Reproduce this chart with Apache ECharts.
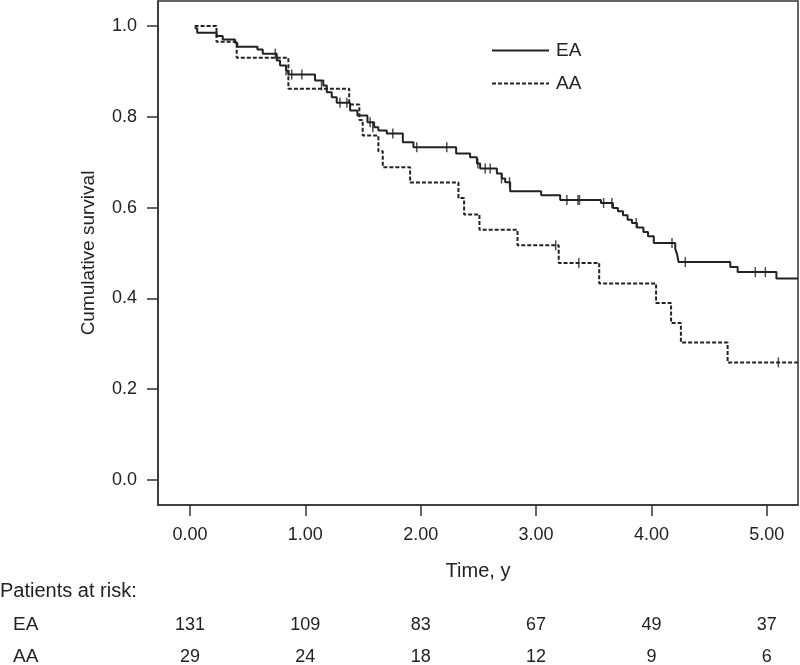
<!DOCTYPE html>
<html>
<head>
<meta charset="utf-8">
<script src="https://cdn.jsdelivr.net/npm/echarts@6/dist/echarts.min.js"></script>
<style>html,body{margin:0;padding:0;background:#fff}#c{width:800px;height:665px}</style>
</head>
<body>
<div id="c"></div>
<script>
// ---- data ----
const tickTimes = [0, 1, 2, 3, 4, 5];
const survTicks = [0, 0.2, 0.4, 0.6, 0.8, 1.0];
const riskEA = [131, 109, 83, 67, 49, 37];
const riskAA = [29, 24, 18, 12, 9, 6];

const eaTime = [0.04, 0.063, 0.232, 0.284, 0.390, 0.410, 0.585, 0.631, 0.752, 0.781, 0.833, 0.853, 1.084, 1.156, 1.186, 1.229, 1.272, 1.388, 1.451, 1.538, 1.596, 1.633, 1.706, 1.845, 1.937, 2.307, 2.428, 2.487, 2.515, 2.660, 2.703, 2.732, 2.775, 3.044, 3.209, 3.562, 3.666, 3.709, 3.753, 3.793, 3.831, 3.874, 3.93, 3.97, 4.02, 4.206, 4.221, 4.235, 4.683, 4.747, 5.083, 5.27];
const eaSurv = [0.995, 0.985, 0.978, 0.970, 0.963, 0.954, 0.948, 0.939, 0.924, 0.913, 0.902, 0.893, 0.880, 0.869, 0.854, 0.843, 0.831, 0.814, 0.803, 0.788, 0.777, 0.770, 0.763, 0.744, 0.733, 0.719, 0.711, 0.697, 0.686, 0.675, 0.664, 0.656, 0.636, 0.627, 0.617, 0.610, 0.599, 0.592, 0.583, 0.573, 0.566, 0.556, 0.546, 0.537, 0.522, 0.509, 0.498, 0.480, 0.469, 0.458, 0.444, 0.444];

const aaTime = [0.04, 0.23, 0.405, 0.853, 1.38, 1.468, 1.497, 1.633, 1.671, 1.908, 2.327, 2.376, 2.509, 2.839, 3.196, 3.547, 4.04, 4.17, 4.255, 4.66, 5.27];
const aaSurv = [1.0, 0.965, 0.930, 0.862, 0.827, 0.793, 0.759, 0.724, 0.689, 0.655, 0.621, 0.585, 0.551, 0.517, 0.478, 0.433, 0.390, 0.346, 0.303, 0.259, 0.259];

const eaCensTime = [0.74, 0.833, 0.882, 0.97, 1.14, 1.30, 1.36, 1.561, 1.585, 1.758, 1.966, 2.226, 2.495, 2.559, 2.602, 2.70, 2.77, 3.267, 3.363, 3.376, 3.585, 3.657, 3.868, 4.178, 4.293, 4.900, 4.987];
const eaCensSurv = [0.939, 0.902, 0.893, 0.893, 0.869, 0.831, 0.831, 0.788, 0.777, 0.763, 0.733, 0.733, 0.697, 0.686, 0.686, 0.664, 0.656, 0.617, 0.617, 0.617, 0.610, 0.610, 0.566, 0.522, 0.480, 0.458, 0.458];

const aaCensTime = [3.17, 3.37, 5.10];
const aaCensSurv = [0.517, 0.478, 0.259];

// ---- build ----
const zip = (a, b) => a.map((v, i) => [v, b[i]]);
const FONT = '"Liberation Sans", Arial, Helvetica, sans-serif';
const TXT = '#222';
const LINE = '#333';

const chart = echarts.init(document.getElementById('c'), null, {renderer: 'canvas'});
const option = {
  animation: false,
  backgroundColor: '#fff',
  textStyle: {fontFamily: FONT},
  grid: {left: 158, right: 2, top: 1, bottom: 160, show: true, borderColor: LINE, borderWidth: 1.5},
  legend: {
    data: ['EA', 'AA'], orient: 'vertical', left: 491, top: 41, padding: 0,
    itemWidth: 57, itemHeight: 18, itemGap: 14,
    itemStyle: {color: 'rgba(0,0,0,0)', borderWidth: 0, opacity: 0},
    textStyle: {fontSize: 19, color: TXT, fontFamily: FONT, padding: [0, 0, 0, 2]}
  },
  xAxis: {
    type: 'value', min: -0.277, max: 5.27,
    axisLine: {onZero: false, lineStyle: {color: LINE, width: 1.5}},
    axisTick: {customValues: tickTimes, length: 11, lineStyle: {color: LINE, width: 1.5}},
    axisLabel: {customValues: tickTimes, formatter: v => v.toFixed(2), margin: 21, fontSize: 18, color: TXT},
    splitLine: {show: false},
    name: 'Time, y', nameLocation: 'middle', nameGap: 56,
    nameTextStyle: {fontSize: 20, color: TXT}
  },
  yAxis: {
    type: 'value', min: -0.055, max: 1.055,
    axisLine: {onZero: false, lineStyle: {color: LINE, width: 1.5}},
    axisTick: {customValues: survTicks, length: 11, lineStyle: {color: LINE, width: 1.5}},
    axisLabel: {customValues: survTicks, formatter: v => v.toFixed(1), margin: 21, fontSize: 18, color: TXT},
    splitLine: {show: false},
    name: 'Cumulative survival', nameLocation: 'middle', nameGap: 60,
    nameTextStyle: {fontSize: 19, color: TXT}
  },
  series: [
    {name: 'EA', type: 'line', step: 'end', data: zip(eaTime, eaSurv), symbol: 'none', showSymbol: false,
     lineStyle: {color: '#222', width: 2}, itemStyle: {color: '#222'}, clip: true},
    {name: 'AA', type: 'line', step: 'end', data: zip(aaTime, aaSurv), symbol: 'none', showSymbol: false,
     lineStyle: {color: '#222', width: 2, type: [4, 2]}, itemStyle: {color: '#222'}, clip: true},
    {name: 'EA censored', type: 'scatter', data: zip(eaCensTime, eaCensSurv), symbol: 'rect', symbolSize: [1.5, 10],
     itemStyle: {color: '#222'}, silent: true},
    {name: 'AA censored', type: 'scatter', data: zip(aaCensTime, aaCensSurv), symbol: 'rect', symbolSize: [1.5, 10],
     itemStyle: {color: '#222'}, silent: true}
  ]
};
chart.setOption(option);

// risk table positioned through the x axis scale
const g = [
  {type: 'text', left: 0, top: 581, style: {text: 'Patients at risk:', font: '20px ' + FONT, fill: TXT}},
  {type: 'text', left: 13, top: 615, style: {text: 'EA', font: '19px ' + FONT, fill: TXT}},
  {type: 'text', left: 13, top: 647, style: {text: 'AA', font: '19px ' + FONT, fill: TXT}}
];
tickTimes.forEach((t, i) => {
  const x = chart.convertToPixel({xAxisIndex: 0}, t);
  g.push({type: 'text', x: x, y: 625, style: {text: String(riskEA[i]), font: '18px ' + FONT, fill: TXT, align: 'center', verticalAlign: 'middle'}});
  g.push({type: 'text', x: x, y: 657, style: {text: String(riskAA[i]), font: '18px ' + FONT, fill: TXT, align: 'center', verticalAlign: 'middle'}});
});
chart.setOption({graphic: g});
</script>
</body>
</html>
